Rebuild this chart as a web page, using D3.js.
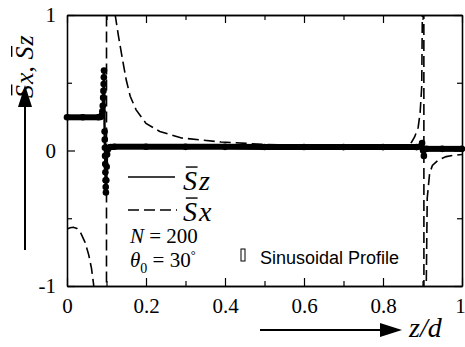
<!DOCTYPE html>
<html>
<head>
<meta charset="utf-8">
<script src="https://cdn.jsdelivr.net/npm/d3@7"></script>
<style>
  body { margin: 0; background: #fff; }
  text { fill: #000; }
  .serif { font-family: "Liberation Serif", "Times New Roman", serif; }
  .sans { font-family: "Liberation Sans", Arial, sans-serif; }
</style>
</head>
<body>
<svg id="chart" width="465" height="347"></svg>
<script>
// ---- axis ticks ----
const xMajorTicks = [0, 0.2, 0.4, 0.6, 0.8, 1];
const xMajorLabels = ["0", "0.2", "0.4", "0.6", "0.8", "1"];
const xMinorTicks = [0.1, 0.3, 0.5, 0.7, 0.9];
const yMajorTicks = [-1, 0, 1];
const yMajorLabels = ["-1", "0", "1"];
const yMinorTicks = [-0.5, 0.5];

// ---- averaged Sz (solid, dotted samples) ----
const szPos = [0, 0.04, 0.08, 0.085, 0.088, 0.0895, 0.0905, 0.0915, 0.0922, 0.0928, 0.0933, 0.0937,
  0.0952, 0.0956, 0.096, 0.0964, 0.0968, 0.0972, 0.0976, 0.098, 0.0985, 0.0995, 0.1005, 0.1015,
  0.103, 0.106, 0.11, 0.12, 0.2, 0.3, 0.4, 0.5, 0.6, 0.7, 0.8, 0.885, 0.895, 0.899, 0.9015,
  0.9035, 0.9055, 0.91, 0.95, 1];
const szVal = [0.245, 0.245, 0.245, 0.248, 0.26, 0.29, 0.33, 0.39, 0.44, 0.49, 0.54, 0.59,
  0.14, 0.08, 0.02, -0.04, -0.1, -0.16, -0.22, -0.27, -0.31, -0.22, -0.12, -0.03,
  0.005, 0.02, 0.026, 0.028, 0.028, 0.027, 0.027, 0.026, 0.026, 0.025, 0.025, 0.025, 0.03, 0.055, 0.0,
  -0.04, 0.01, 0.012, 0.012, 0.012];

// ---- averaged Sx (dashed) ----
const sxPos = [0, 0.008, 0.016, 0.025, 0.035, 0.046, 0.055, 0.062, 0.067, 0.075, 0.085, 0.093, 0.098, 0.0995,
  0.1005, 0.105, 0.112, 0.122, 0.13, 0.14, 0.15, 0.16, 0.175, 0.2, 0.235, 0.29, 0.39, 0.5, 0.6, 0.7, 0.8,
  0.84, 0.86, 0.872, 0.88, 0.889, 0.894, 0.898, 0.9005, 0.9025, 0.9045, 0.908, 0.912, 0.918, 0.925,
  0.94, 0.96, 0.98, 1];
const sxVal = [-0.58, -0.57, -0.567, -0.575, -0.61, -0.68, -0.77, -0.87, -0.98, -1.2, -1.7, -3, -6, -12,
  12, 3, 1.6, 1.0, 0.85, 0.68, 0.52, 0.40, 0.30, 0.20, 0.14, 0.092, 0.063, 0.045, 0.035, 0.03, 0.028,
  0.028, 0.035, 0.06, 0.1, 0.17, 0.28, 0.47, 1.3, 12, -12, -1.4, -0.35, -0.17, -0.11,
  -0.07, -0.045, -0.035, -0.03];

const sz = szPos.map((z, i) => ({ z, v: szVal[i] }));
const sx = sxPos.map((z, i) => ({ z, v: sxVal[i] }));

const svg = d3.select("#chart");
const plotL = 67, plotR = 462, plotT = 15, plotB = 286;
const x = d3.scaleLinear().domain([0, 1]).range([plotL, plotR]);
const y = d3.scaleLinear().domain([-1, 1]).range([plotB, plotT]);

svg.append("defs").append("clipPath").attr("id", "plot")
  .append("rect").attr("x", plotL).attr("y", plotT)
  .attr("width", plotR - plotL).attr("height", plotB - plotT);

// ---- frame and ticks (inward) ----
function styleAxis(g) {
  g.selectAll("path.domain").attr("stroke", "#000").attr("stroke-width", 1.3);
  g.selectAll(".tick line").attr("stroke", "#000").attr("stroke-width", 1.2);
}
const bottomAxis = svg.append("g").attr("transform", `translate(0,${plotB})`)
  .call(d3.axisBottom(x).tickValues(xMajorTicks).tickSizeInner(-8).tickSizeOuter(0)
    .tickPadding(12).tickFormat((d, i) => xMajorLabels[i]));
bottomAxis.attr("font-family", null).attr("font-size", null);
bottomAxis.selectAll("text").attr("class", "serif").style("font-size", "21px")
  .attr("dx", d => d === 1 ? -2 : 0);
bottomAxis.call(styleAxis);
svg.append("g").attr("transform", `translate(0,${plotB})`)
  .call(d3.axisBottom(x).tickValues(xMinorTicks).tickSizeInner(-5).tickSizeOuter(0).tickFormat(""))
  .call(styleAxis);
svg.append("g").attr("transform", `translate(0,${plotT})`)
  .call(d3.axisTop(x).tickValues(xMajorTicks).tickSizeInner(-8).tickSizeOuter(0).tickFormat(""))
  .call(styleAxis);
svg.append("g").attr("transform", `translate(0,${plotT})`)
  .call(d3.axisTop(x).tickValues(xMinorTicks).tickSizeInner(-5).tickSizeOuter(0).tickFormat(""))
  .call(styleAxis);

const leftAxis = svg.append("g").attr("transform", `translate(${plotL},0)`)
  .call(d3.axisLeft(y).tickValues(yMajorTicks).tickSizeInner(-8).tickSizeOuter(0)
    .tickPadding(11).tickFormat((d, i) => yMajorLabels[i]));
leftAxis.attr("font-family", null).attr("font-size", null);
leftAxis.selectAll("text").attr("class", "serif").style("font-size", "21px");
leftAxis.call(styleAxis);
svg.append("g").attr("transform", `translate(${plotL},0)`)
  .call(d3.axisLeft(y).tickValues(yMinorTicks).tickSizeInner(-5).tickSizeOuter(0).tickFormat(""))
  .call(styleAxis);
svg.append("g").attr("transform", `translate(${plotR},0)`)
  .call(d3.axisRight(y).tickValues(yMajorTicks).tickSizeInner(-8).tickSizeOuter(0).tickFormat(""))
  .call(styleAxis);
svg.append("g").attr("transform", `translate(${plotR},0)`)
  .call(d3.axisRight(y).tickValues(yMinorTicks).tickSizeInner(-5).tickSizeOuter(0).tickFormat(""))
  .call(styleAxis);

// ---- curves ----
const line = d3.line().x(d => x(d.z)).y(d => y(d.v));
const plot = svg.append("g").attr("clip-path", "url(#plot)");

plot.append("path").datum(sx)
  .attr("d", line).attr("fill", "none").attr("stroke", "#000")
  .attr("stroke-width", 1.6).attr("stroke-dasharray", "11,5");

// Sz: densely sampled layers merge into a heavy band on the plateaus;
// steep runs show the thin connecting line with separate sample dots.
const szSegs = d3.pairs(sz);
svg.append("g").selectAll("line").data(szSegs).join("line")
  .attr("x1", d => x(d[0].z)).attr("y1", d => y(d[0].v))
  .attr("x2", d => x(d[1].z)).attr("y2", d => y(d[1].v))
  .attr("stroke", "#000")
  .attr("stroke-width", d => Math.abs(y(d[1].v) - y(d[0].v)) > Math.abs(x(d[1].z) - x(d[0].z)) ? 2.4 : 6);
svg.append("g").selectAll("circle").data(sz).join("circle")
  .attr("cx", d => x(d.z)).attr("cy", d => y(d.v)).attr("r", 3.3).attr("fill", "#000");

// ---- text with an overbar on S ----
// parts: [{t, italic, bar}] laid out left to right starting at (x0, y0)
function barredText(g, x0, y0, parts, size) {
  let cx = x0;
  parts.forEach(p => {
    const t = g.append("text").attr("class", "serif").attr("x", cx).attr("y", y0)
      .style("font-size", size + "px")
      .style("font-style", p.italic ? "italic" : "normal")
      .style("white-space", "pre").text(p.t);
    const w = t.node().getComputedTextLength();
    if (p.bar) {
      g.append("line").attr("x1", cx + size * 0.1).attr("x2", cx + w + size * 0.02)
        .attr("y1", y0 - size * 0.82).attr("y2", y0 - size * 0.82)
        .attr("stroke", "#000").attr("stroke-width", 1.4);
    }
    cx += w + (p.gap || 0);
  });
  return cx - x0;
}

// y label (rotated) and arrow
const yLab = svg.append("g").attr("transform", "translate(33,98) rotate(-90)");
barredText(yLab, 0, 0, [
  { t: "S", italic: true, bar: true, gap: 1 }, { t: "x", italic: true },
  { t: ", ", italic: false }, { t: "S", italic: true, bar: true, gap: 1 }, { t: "z", italic: true }
], 26);

svg.append("line").attr("x1", 25).attr("x2", 25).attr("y1", 250).attr("y2", 104)
  .attr("stroke", "#000").attr("stroke-width", 2);
svg.append("path").attr("d", d3.line()([[25, 85], [18, 107], [32, 107]]) + "Z").attr("fill", "#000");

// x label and arrow
svg.append("line").attr("x1", 260).attr("x2", 382).attr("y1", 330).attr("y2", 330)
  .attr("stroke", "#000").attr("stroke-width", 2);
svg.append("path").attr("d", d3.line()([[402, 330], [380, 323], [380, 337]]) + "Z").attr("fill", "#000");
svg.append("text").attr("class", "serif").attr("x", 409).attr("y", 337)
  .style("font-size", "28px").style("font-style", "italic").text("z/d");

// ---- legend ----
svg.append("line").attr("x1", 128).attr("x2", 175).attr("y1", 177).attr("y2", 177)
  .attr("stroke", "#000").attr("stroke-width", 1.6);
svg.append("line").attr("x1", 128).attr("x2", 177).attr("y1", 210).attr("y2", 210)
  .attr("stroke", "#000").attr("stroke-width", 1.6).attr("stroke-dasharray", "11,5");
barredText(svg, 183, 190, [{ t: "S", italic: true, bar: true, gap: 2 }, { t: "z", italic: true }], 28);
barredText(svg, 183, 221, [{ t: "S", italic: true, bar: true, gap: 2 }, { t: "x", italic: true }], 28);

const nText = svg.append("text").attr("class", "serif").attr("x", 130).attr("y", 243)
  .style("font-size", "21px");
nText.append("tspan").style("font-style", "italic").text("N");
nText.append("tspan").text(" = 200");

const tText = svg.append("text").attr("class", "serif").attr("x", 130).attr("y", 267)
  .style("font-size", "21px");
tText.append("tspan").style("font-style", "italic").text("θ");
tText.append("tspan").style("font-size", "14px").attr("dy", 6).text("0");
tText.append("tspan").attr("dy", -6).text(" = 30");
tText.append("tspan").style("font-size", "12px").attr("dy", -8).text("°");

svg.append("rect").attr("x", 241).attr("y", 249).attr("width", 4).attr("height", 12)
  .attr("fill", "none").attr("stroke", "#000").attr("stroke-width", 1);
svg.append("text").attr("class", "sans").attr("x", 260).attr("y", 264)
  .style("font-size", "18px").text("Sinusoidal Profile");
</script>
</body>
</html>
